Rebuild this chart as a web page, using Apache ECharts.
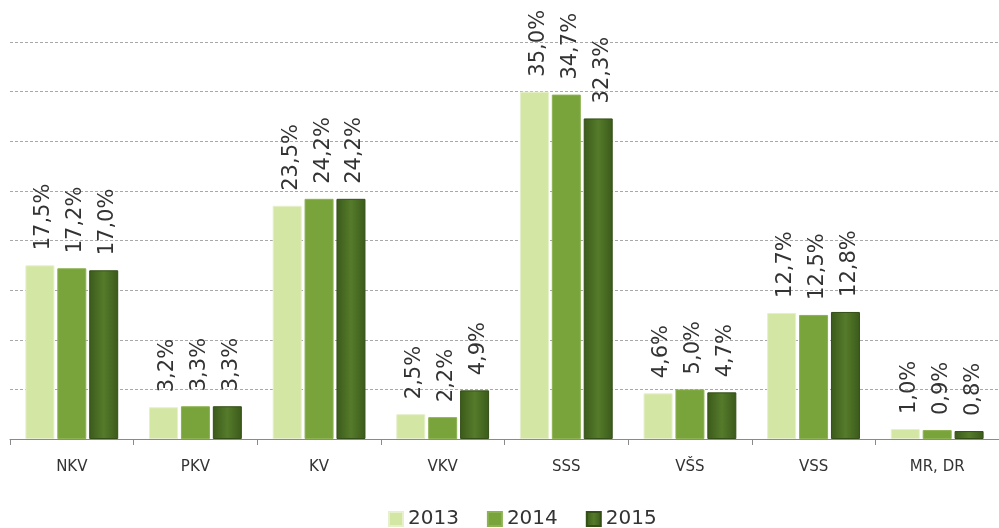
<!DOCTYPE html>
<html>
<head>
<meta charset="utf-8">
<script src="https://cdn.jsdelivr.net/npm/echarts@6/dist/echarts.min.js"></script>
<style>
  html, body { margin: 0; padding: 0; background: #fff; }
  #chart { width: 999px; height: 528px; }
</style>
</head>
<body>
<div id="chart"></div>
<script>
// Education level categories and yearly shares (%)
const categories = ['NKV', 'PKV', 'KV', 'VKV', 'SSS', 'VŠS', 'VSS', 'MR, DR'];
const years = ['2013', '2014', '2015'];
const values2013 = [17.5, 3.2, 23.5, 2.5, 35.0, 4.6, 12.7, 1.0];
const values2014 = [17.2, 3.3, 24.2, 2.2, 34.7, 5.0, 12.5, 0.9];
const values2015 = [17.0, 3.3, 24.2, 4.9, 32.3, 4.7, 12.8, 0.8];

const fmt = v => v.toFixed(1).replace('.', ',') + '%';

const labelStyle = {
  show: true,
  position: 'top',
  rotate: 90,
  align: 'left',
  verticalAlign: 'middle',
  distance: 15,
  offset: [0, 4],
  color: '#333',
  fontFamily: 'DejaVu Sans',
  fontSize: 21,
  formatter: p => fmt(p.value)
};

const seriesColors = [
  '#d3e6a3',
  '#79a43b',
  {
    type: 'linear', x: 0, y: 0, x2: 1, y2: 0,
    colorStops: [
      { offset: 0, color: '#3b5a1b' },
      { offset: 0.5, color: '#557b2a' },
      { offset: 1, color: '#3b5a1b' }
    ]
  }
];
const borderColors = ['#e6f0cc', '#8cb251', '#344f17'];

const chart = echarts.init(document.getElementById('chart'));
chart.setOption({
  animation: false,
  grid: { left: 10, top: 42, width: 997, bottom: 89, containLabel: false },
  legend: {
    data: years,
    left: 383,
    top: 504,
    itemWidth: 14,
    itemHeight: 14,
    itemGap: 28,
    icon: 'rect',
    textStyle: { fontFamily: 'DejaVu Sans', fontSize: 20, color: '#333' }
  },
  xAxis: {
    type: 'category',
    data: categories,
    axisLine: { lineStyle: { color: '#8a8a8a', width: 1 } },
    axisTick: { show: true, length: 6, lineStyle: { color: '#8a8a8a' } },
    axisLabel: { color: '#333', fontFamily: 'DejaVu Sans', fontSize: 15, margin: 21 }
  },
  yAxis: {
    type: 'value',
    min: 0,
    max: 40,
    interval: 5,
    axisLabel: { show: false },
    axisLine: { show: false },
    axisTick: { show: false },
    splitLine: { lineStyle: { color: '#a8a8a8', type: [3, 2], width: 1 } }
  },
  series: [values2013, values2014, values2015].map((vals, i) => ({
    name: years[i],
    type: 'bar',
    data: vals,
    barWidth: 29,
    barGap: '10%',
    itemStyle: { color: seriesColors[i], borderColor: borderColors[i], borderWidth: 1 },
    label: labelStyle
  }))
});
</script>
</body>
</html>
